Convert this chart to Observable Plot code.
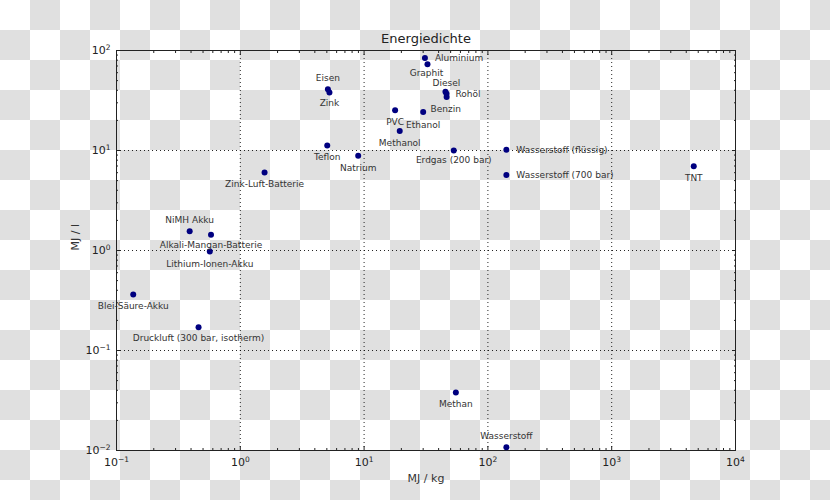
<!DOCTYPE html>
<html>
<head>
<meta charset="utf-8">
<script src="https://cdn.jsdelivr.net/npm/d3@7"></script>
<script src="https://cdn.jsdelivr.net/npm/@observablehq/plot@0.6"></script>
<style>
  html, body { margin: 0; padding: 0; }
  body {
    width: 830px; height: 500px; overflow: hidden;
    background-color: #fff;
    background-image: conic-gradient(#e0e0e0 0 25%, #fff 0 50%, #e0e0e0 0 75%, #fff 0);
    background-size: 60px 60px;
    font-family: "DejaVu Sans", sans-serif;
  }
</style>
</head>
<body>
<div id="chart"></div>
<script>
// ---- Data ----
const names = [
  "Aluminium", "Graphit", "Eisen", "Zink", "Diesel", "Rohöl", "Benzin",
  "PVC", "Ethanol", "Methanol", "Teflon", "Natrium", "Erdgas (200 bar)",
  "Wasserstoff (flüssig)", "Wasserstoff (700 bar)", "TNT", "Zink-Luft-Batterie",
  "NiMH Akku", "Alkali-Mangan-Batterie", "Lithium-Ionen-Akku", "Blei-Säure-Akku",
  "Druckluft (300 bar, isotherm)", "Methan", "Wasserstoff"
];
const mjPerKg = [
  31, 32.5, 5.1, 5.25, 45.4, 46.3, 46.4,
  17.8, 30, 19.4, 5.04, 8.96, 53,
  141, 141, 4600, 1.57,
  0.39, 0.58, 0.567, 0.1365,
  0.46, 55.1, 141
];
const mjPerL = [
  84, 73, 41, 38, 38.6, 37, 34.2,
  25.3, 24.2, 15.7, 11.2, 8.85, 10,
  10.2, 5.7, 6.97, 6.03,
  1.56, 1.44, 0.977, 0.363,
  0.171, 0.038, 0.0108
];
const xTicks = [0.1, 1, 10, 100, 1000, 10000];
const xTickLabels = ["10^-1", "10^0", "10^1", "10^2", "10^3", "10^4"];
const yTicks = [0.01, 0.1, 1, 10, 100];
const yTickLabels = ["10^-2", "10^-1", "10^0", "10^1", "10^2"];
const title = "Energiedichte";
const xLabel = "MJ / kg";
const yLabel = "MJ / l";

// ---- Label placement (layout only): [dx, dy, textAnchor] ----
const placement = {
  "Aluminium": [10, 0, "start"],
  "Graphit": [-1, 9, "middle"],
  "Eisen": [0, -11, "middle"],
  "Zink": [0, 11, "middle"],
  "Diesel": [1, -8.5, "middle"],
  "Rohöl": [9, 0, "start"],
  "Benzin": [-16, 12.5, "start"],
  "PVC": [0, 12, "middle"],
  "Ethanol": [0, 12.5, "middle"],
  "Methanol": [0, 12, "middle"],
  "Teflon": [0, 12, "middle"],
  "Natrium": [0, 12, "middle"],
  "Erdgas (200 bar)": [0, 10, "middle"],
  "Wasserstoff (flüssig)": [10, 0, "start"],
  "Wasserstoff (700 bar)": [10, 0, "start"],
  "TNT": [0, 12, "middle"],
  "Zink-Luft-Batterie": [0, 12, "middle"],
  "NiMH Akku": [0, -11, "middle"],
  "Alkali-Mangan-Batterie": [0, 10, "middle"],
  "Lithium-Ionen-Akku": [0, 12.5, "middle"],
  "Blei-Säure-Akku": [0, 12, "middle"],
  "Druckluft (300 bar, isotherm)": [0, 10.5, "middle"],
  "Methan": [0, 11.5, "middle"],
  "Wasserstoff": [0, -11, "middle"]
};

const data = names.map((n, i) => ({name: n, kg: mjPerKg[i], l: mjPerL[i]}));

// minor tick positions (2..9 per decade)
function minors(lo, hi) {
  const out = [];
  for (let e = lo; e < hi; e++) for (let m = 2; m <= 9; m++) out.push(m * Math.pow(10, e));
  return out;
}
const xMinor = minors(-1, 4);
const yMinor = minors(-2, 2);
const xLabMap = new Map(xTicks.map((v, i) => [v, xTickLabels[i]]));
const yLabMap = new Map(yTicks.map((v, i) => [v, yTickLabels[i]]));

const axisColor = "#222";
const tickStyle = {stroke: axisColor, tickFormat: () => "", label: null};

const labelMarks = data.map(d => {
  const [dx, dy, anchor] = placement[d.name];
  return Plot.text([d], {x: "kg", y: "l", text: "name", dx, dy, textAnchor: anchor,
    fontSize: 9, fill: "#333"});
});

const chart = Plot.plot({
  width: 830,
  height: 500,
  marginLeft: 116,
  marginRight: 95,
  marginTop: 50,
  marginBottom: 50,
  style: {background: "transparent", fontFamily: "DejaVu Sans, sans-serif", overflow: "visible"},
  x: {type: "log", domain: [0.1, 10000]},
  y: {type: "log", domain: [0.01, 100]},
  marks: [
    Plot.gridX({ticks: [1, 10, 100, 1000], stroke: "#000", strokeOpacity: 0.85, strokeDasharray: "1,3"}),
    Plot.gridY({ticks: [0.1, 1, 10], stroke: "#000", strokeOpacity: 0.85, strokeDasharray: "1,3"}),
    // inward ticks on all sides
    Plot.axisX({anchor: "bottom", ticks: xTicks, tickSize: -4, ...tickStyle}),
    Plot.axisX({anchor: "top", ticks: xTicks, tickSize: -4, ...tickStyle}),
    Plot.axisX({anchor: "bottom", ticks: xMinor, tickSize: -2, ...tickStyle}),
    Plot.axisX({anchor: "top", ticks: xMinor, tickSize: -2, ...tickStyle}),
    Plot.axisY({anchor: "left", ticks: yTicks, tickSize: -4, ...tickStyle}),
    Plot.axisY({anchor: "right", ticks: yTicks, tickSize: -4, ...tickStyle}),
    Plot.axisY({anchor: "left", ticks: yMinor, tickSize: -2, ...tickStyle}),
    Plot.axisY({anchor: "right", ticks: yMinor, tickSize: -2, ...tickStyle}),
    // tick labels
    Plot.axisX({anchor: "bottom", ticks: xTicks, tickSize: 0, tickPadding: 8,
      tickFormat: d => xLabMap.get(d), fontSize: 11, fill: "#222", label: null}),
    Plot.axisY({anchor: "left", ticks: yTicks, tickSize: 0, tickPadding: 6,
      tickFormat: d => yLabMap.get(d), fontSize: 11, fill: "#222", label: null}),
    Plot.frame({stroke: axisColor}),
    Plot.dot(data, {x: "kg", y: "l", r: 3, fill: "#000080", stroke: "none"}),
    ...labelMarks,
    Plot.text([title], {frameAnchor: "top", dy: -12, lineAnchor: "middle", fontSize: 13, fill: "#222"}),
    Plot.text([xLabel], {frameAnchor: "bottom", dy: 28, lineAnchor: "middle", fontSize: 11, fill: "#333"}),
    Plot.text([yLabel], {frameAnchor: "left", dx: -41, rotate: -90, lineAnchor: "middle", fontSize: 11, fill: "#333"})
  ]
});

// render "10^e" tick labels as 10 with a raised exponent
chart.querySelectorAll("text").forEach(t => {
  const s = t.textContent;
  if (/^10\^-?\d$/.test(s)) {
    const exp = s.split("^")[1];
    t.textContent = "10";
    const ts = document.createElementNS("http://www.w3.org/2000/svg", "tspan");
    ts.setAttribute("dy", "-4");
    ts.setAttribute("font-size", "7.5");
    ts.textContent = exp.replace("-", "\u2212");
    t.appendChild(ts);
  }
});
document.getElementById("chart").appendChild(chart);
</script>
</body>
</html>
